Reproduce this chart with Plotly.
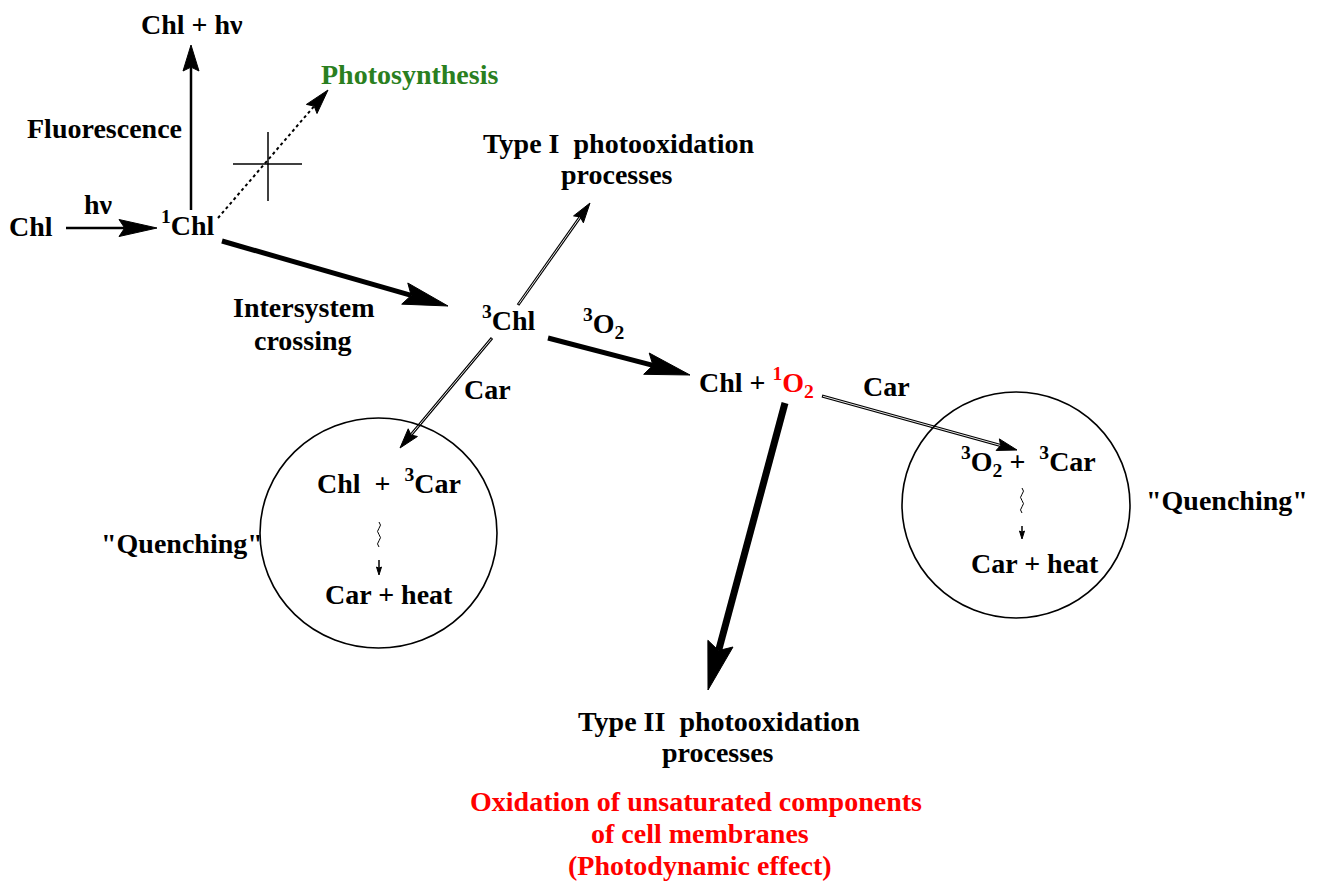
import math
import plotly.graph_objects as go

# Page is shown with the browser's default 8px body margin, so the figure is
# sized to the remaining viewport and its axes are set so that data units equal
# page pixels.
PAGE_W, PAGE_H = 1321, 882
OFF = 8
FONT = "Liberation Serif"
FS = 28
RED = "#ff0000"
GREEN = "#2a7f20"

# ---- text labels (diagram nodes) ----
LABEL_TEXT = [
    "Chl + h\u03bd",
    "Photosynthesis",
    "Fluorescence",
    "h\u03bd",
    "Chl",
    "<sup>1</sup>Chl",
    "Type I\u00a0\u00a0photooxidation",
    "processes",
    "Intersystem",
    "crossing",
    "<sup>3</sup>Chl",
    "<sup>3</sup>O<sub>2</sub>",
    "Car",
    "Chl + <span style='color:#ff0000'><sup>1</sup>O<sub>2</sub></span>",
    "Car",
    "Chl\u00a0\u00a0+\u00a0\u00a0<sup>3</sup>Car",
    "Car + heat",
    "\"Quenching\"",
    "<sup>3</sup>O<sub>2</sub> +\u00a0\u00a0<sup>3</sup>Car",
    "Car + heat",
    "\"Quenching\"",
    "Type II\u00a0\u00a0photooxidation",
    "processes",
    "Oxidation of unsaturated components",
    "of cell membranes",
    "(Photodynamic effect)",
]
LABEL_X = [192, 409.5, 104.5, 98, 30.5, 188, 618.5, 616.5, 303.5, 302.5, 509, 603.5,
           487.5, 756.5, 886, 389, 388.5, 181.5, 1028.5, 1035, 1227, 719, 717.5,
           696, 700, 700]
LABEL_Y = [24, 74, 128, 204, 226, 228, 143.5, 174, 307, 340, 323, 325,
           389, 384, 386.5, 486, 594, 543, 463, 563.5, 500, 721.5, 752,
           801, 833.5, 865]
LABEL_COLOR = ["black", GREEN, "black", "black", "black", "black", "black", "black",
               "black", "black", "black", "black", "black", "black", "black", "black",
               "black", "black", "black", "black", "black", "black", "black",
               RED, RED, RED]

# ---- reaction arrows: start -> tip ----
ARROW_X0 = [66, 191, 218, 222, 518, 492, 548, 822, 785, 379, 1022]
ARROW_Y0 = [228, 210, 218, 241, 305, 338, 338, 396, 403, 560, 526]
ARROW_X1 = [157, 191, 328, 448, 590, 400, 690, 1017, 708, 379, 1022]
ARROW_Y1 = [228, 45, 90, 306, 203, 448, 375, 450, 690, 575, 539]
ARROW_KIND = ["long", "normal", "dotted", "bold", "double", "double", "bold",
              "double", "heavy", "small", "small"]

# ---- blocked-path cross marks ----
BLOCK_X0 = [233, 268]
BLOCK_Y0 = [164, 132]
BLOCK_X1 = [302, 268]
BLOCK_Y1 = [164, 201]

# ---- quenching circles: centre and radii ----
CIRCLE_CX = [378.5, 1016]
CIRCLE_CY = [533, 505]
CIRCLE_RX = [118.5, 114]
CIRCLE_RY = [115, 113]

# ---- wavy (non-radiative) decay marks: x, y start, y end ----
WAVY_X = [379, 1022]
WAVY_Y0 = [522, 488]
WAVY_Y1 = [547, 513]

STYLE = {
    "long": dict(lw=2.5, hl=38, hw=8.5, dash=None, double=False),
    "normal": dict(lw=2.5, hl=26, hw=8, dash=None, double=False),
    "dotted": dict(lw=2, hl=25, hw=7, dash="dot", double=False),
    "bold": dict(lw=5, hl=45, hw=11, dash=None, double=False),
    "double": dict(lw=3, hl=20, hw=6, dash=None, double=True),
    "heavy": dict(lw=7, hl=48, hw=13, dash=None, double=False),
    "small": dict(lw=1.5, hl=8, hw=2.5, dash=None, double=False),
}

shapes = []


def add_arrow(x0, y0, x1, y1, kind):
    st = STYLE[kind]
    hl, hw = st["hl"], st["hw"]
    dx, dy = x1 - x0, y1 - y0
    L = math.hypot(dx, dy)
    ux, uy = dx / L, dy / L
    nx, ny = -uy, ux
    bx, by = x1 - hl * ux, y1 - hl * uy
    notch = 0.15
    mx, my = x1 - hl * (1 - notch) * ux, y1 - hl * (1 - notch) * uy
    line = dict(color="black", width=st["lw"])
    if st["dash"]:
        line["dash"] = st["dash"]
    shapes.append(dict(type="line", xref="x", yref="y", x0=x0, y0=y0, x1=mx, y1=my,
                       line=line, layer="above"))
    if st["double"]:
        shapes.append(dict(type="line", xref="x", yref="y", x0=x0 + ux, y0=y0 + uy,
                           x1=mx, y1=my, line=dict(color="white", width=0.9),
                           layer="above"))
    path = (f"M{x1},{y1} L{bx + hw * nx},{by + hw * ny} L{mx},{my} "
            f"L{bx - hw * nx},{by - hw * ny} Z")
    shapes.append(dict(type="path", xref="x", yref="y", path=path, fillcolor="black",
                       line=dict(color="black", width=1), layer="above"))


for i in range(len(ARROW_X0)):
    add_arrow(ARROW_X0[i], ARROW_Y0[i], ARROW_X1[i], ARROW_Y1[i], ARROW_KIND[i])

for i in range(len(BLOCK_X0)):
    shapes.append(dict(type="line", xref="x", yref="y", x0=BLOCK_X0[i], y0=BLOCK_Y0[i],
                       x1=BLOCK_X1[i], y1=BLOCK_Y1[i], line=dict(color="black", width=1.5)))

for i in range(len(CIRCLE_CX)):
    shapes.append(dict(type="circle", xref="x", yref="y",
                       x0=CIRCLE_CX[i] - CIRCLE_RX[i], x1=CIRCLE_CX[i] + CIRCLE_RX[i],
                       y0=CIRCLE_CY[i] - CIRCLE_RY[i], y1=CIRCLE_CY[i] + CIRCLE_RY[i],
                       line=dict(color="black", width=1.6)))

for i in range(len(WAVY_X)):
    x, ya, yb = WAVY_X[i], WAVY_Y0[i], WAVY_Y1[i]
    n = 4
    step = (yb - ya) / n
    p = f"M{x},{ya}"
    for k in range(n):
        side = 3 if k % 2 == 0 else -3
        p += f" Q{x + side},{ya + step * (k + 0.5)} {x},{ya + step * (k + 1)}"
    shapes.append(dict(type="path", xref="x", yref="y", path=p,
                       line=dict(color="black", width=1)))

annotations = []
for t, x, y, c in zip(LABEL_TEXT, LABEL_X, LABEL_Y, LABEL_COLOR):
    adj = 0
    if "<sup>" in t:
        adj -= 4.5
    if "<sub>" in t:
        adj += 3
    annotations.append(dict(text=f"<b>{t}</b>", x=x, y=y + adj, xref="x", yref="y",
                            showarrow=False, xanchor="center", yanchor="middle",
                            font=dict(family=FONT, size=FS, color=c)))

fig = go.Figure()
fig.update_layout(
    width=PAGE_W - OFF, height=PAGE_H - OFF,
    margin=dict(l=0, r=0, t=0, b=0),
    font=dict(family=FONT, size=FS, color="black"),
    paper_bgcolor="white", plot_bgcolor="white",
    xaxis=dict(range=[OFF, PAGE_W], visible=False, fixedrange=True),
    yaxis=dict(range=[PAGE_H, OFF], visible=False, fixedrange=True),
    shapes=shapes,
    annotations=annotations,
    showlegend=False,
)
fig.write_html("out.html")
